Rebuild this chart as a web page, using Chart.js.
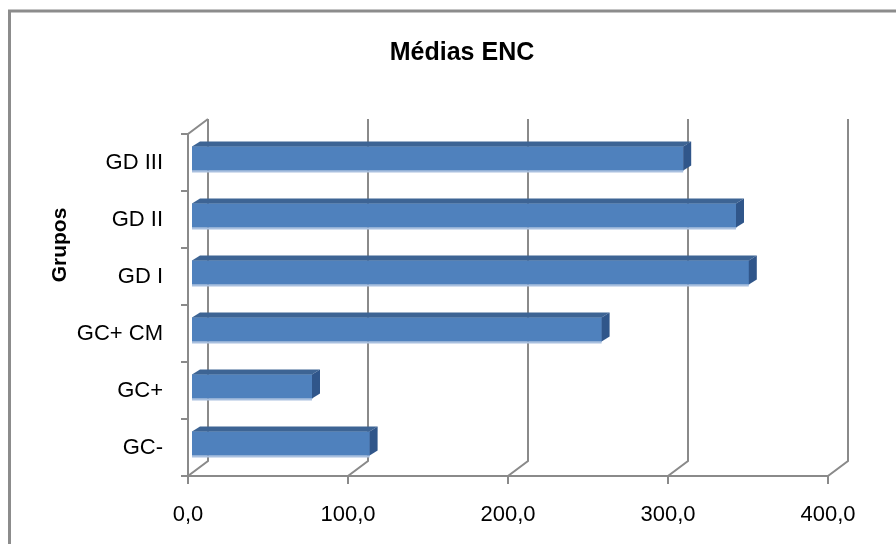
<!DOCTYPE html>
<html>
<head>
<meta charset="utf-8">
<title>Médias ENC</title>
<script src="https://cdn.jsdelivr.net/npm/chart.js@4.4.1/dist/chart.umd.min.js"></script>
<style>
  html, body { margin: 0; padding: 0; background: #fff; }
  canvas { display: block; }
</style>
</head>
<body>
<canvas id="encChart" width="896" height="544"></canvas>
<script>
// Chart data
const grupos = ['GC-', 'GC+', 'GC+ CM', 'GD I', 'GD II', 'GD III'];
const medias = [111, 75, 256, 348, 340, 307];
const xTicks = [0, 100, 200, 300, 400];

// Fake 3D settings
const wallDepth = { x: 20, y: -15 };
const barShift = { x: 4, y: -4 };   // bars sit a bit behind the front plane
const barDepth = { x: 8, y: -5 };
const gridColor = '#8a8a8a';

const fakeThreeD = {
  id: 'fakeThreeD',
  beforeDatasetsDraw(chart) {
    const { ctx, chartArea: a, scales: { x } } = chart;
    ctx.save();
    ctx.strokeStyle = gridColor;
    ctx.lineWidth = 2;

    // back wall gridlines, floor diagonals, tick marks
    ctx.beginPath();
    xTicks.forEach(v => {
      const px = x.getPixelForValue(v);
      ctx.moveTo(px, a.bottom + 8);
      ctx.lineTo(px, a.bottom);
      ctx.lineTo(px + wallDepth.x, a.bottom + wallDepth.y);
      ctx.lineTo(px + wallDepth.x, a.top + wallDepth.y);
    });
    // front floor edge
    ctx.moveTo(a.left, a.bottom);
    ctx.lineTo(a.right, a.bottom);
    // left axis and its top edge
    ctx.moveTo(a.left, a.bottom);
    ctx.lineTo(a.left, a.top);
    ctx.lineTo(a.left + wallDepth.x, a.top + wallDepth.y);
    // category ticks
    const step = (a.bottom - a.top) / grupos.length;
    for (let i = 0; i <= grupos.length; i++) {
      const py = a.top + i * step;
      ctx.moveTo(a.left - 7, py);
      ctx.lineTo(a.left, py);
    }
    ctx.stroke();
    ctx.restore();
  },
  beforeDatasetDraw(chart) {
    chart.ctx.save();
    chart.ctx.translate(barShift.x, barShift.y);
  },
  afterDatasetDraw(chart, args) {
    const ctx = chart.ctx;
    args.meta.data.forEach(bar => {
      const { x, y, base, height } = bar.getProps(['x', 'y', 'base', 'height'], true);
      const t = y - height / 2;
      const b = y + height / 2;

      // top face
      ctx.fillStyle = '#3d6494';
      ctx.beginPath();
      ctx.moveTo(base, t);
      ctx.lineTo(base + barDepth.x, t + barDepth.y);
      ctx.lineTo(x + barDepth.x, t + barDepth.y);
      ctx.lineTo(x, t);
      ctx.closePath();
      ctx.fill();

      // end face
      ctx.fillStyle = '#30568a';
      ctx.beginPath();
      ctx.moveTo(x, t);
      ctx.lineTo(x + barDepth.x, t + barDepth.y);
      ctx.lineTo(x + barDepth.x, b + barDepth.y);
      ctx.lineTo(x, b);
      ctx.closePath();
      ctx.fill();

      // light edge under the bar
      ctx.fillStyle = '#a9c0df';
      ctx.fillRect(base, b, x - base, 2);
    });
    ctx.restore();
  },
  afterDraw(chart) {
    const ctx = chart.ctx;
    ctx.save();
    ctx.fillStyle = '#000';
    ctx.textAlign = 'center';
    ctx.textBaseline = 'middle';

    // chart title (off-centre, as in the original)
    ctx.font = "bold 25px 'Liberation Sans', Arial, sans-serif";
    ctx.fillText('Médias ENC', 462, 53);

    // axis title
    ctx.translate(60, 245);
    ctx.rotate(-Math.PI / 2);
    ctx.font = "bold 21px 'Liberation Sans', Arial, sans-serif";
    ctx.fillText('Grupos', 0, 0);
    ctx.restore();

    // outer chart frame
    ctx.save();
    ctx.strokeStyle = '#8c8c8c';
    ctx.lineWidth = 3;
    ctx.strokeRect(9.5, 11, 1000, 1000);
    ctx.restore();
  }
};

Chart.defaults.font.family = "'Liberation Sans', Arial, sans-serif";
Chart.defaults.color = '#000';

new Chart(document.getElementById('encChart'), {
  type: 'bar',
  data: {
    labels: grupos,
    datasets: [{
      data: medias,
      backgroundColor: '#4f81bd',
      borderWidth: 0,
      barThickness: 24
    }]
  },
  options: {
    indexAxis: 'y',
    responsive: false,
    animation: false,
    layout: {
      padding: { left: 0, right: 68, top: 134, bottom: 0 }
    },
    plugins: {
      legend: { display: false },
      tooltip: { enabled: false }
    },
    scales: {
      x: {
        min: 0,
        max: 400,
        afterFit: s => { s.height = 68; },
        afterBuildTicks: s => { s.ticks = xTicks.map(v => ({ value: v })); },
        grid: { display: false, drawTicks: false },
        border: { display: false },
        ticks: {
          padding: 26,
          color: '#000',
          font: { size: 22 },
          callback: v => v.toFixed(1).replace('.', ',')
        }
      },
      y: {
        reverse: true,
        afterFit: s => { s.width = 188; },
        grid: { display: false, drawTicks: false },
        border: { display: false },
        ticks: {
          padding: 25,
          color: '#000',
          font: { size: 22 }
        }
      }
    }
  },
  plugins: [fakeThreeD]
});
</script>
</body>
</html>
